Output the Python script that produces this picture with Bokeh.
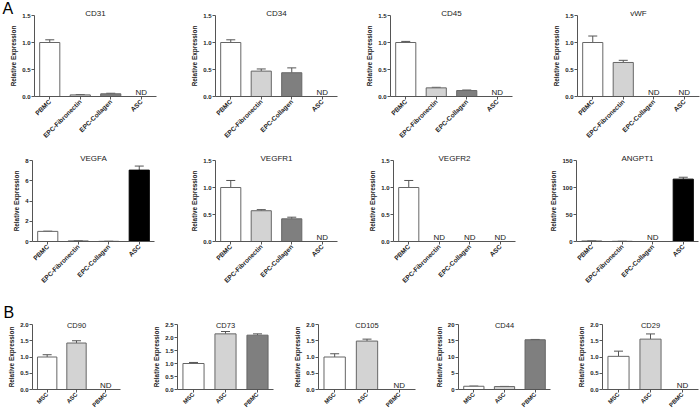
import math
from bokeh.plotting import figure
from bokeh.layouts import row, column
from bokeh.models import (FactorRange, Range1d, FixedTicker, Whisker, TeeHead,
                          ColumnDataSource, Title, NumeralTickFormatter)
from bokeh.embed import file_html
from bokeh.resources import INLINE
from bokeh.core.properties import value

# ---------------- data ----------------
groups_A = ["PBMC", "EPC-Fibronectin", "EPC-Collagen", "ASC"]
groups_B = ["MSC", "ASC", "PBMC"]

# None = ND (not detected)
CD31_mean = [1.00, 0.03, 0.05, None]
CD31_err = [0.05, 0.005, 0.01, None]
CD34_mean = [1.00, 0.47, 0.44, None]
CD34_err = [0.05, 0.04, 0.09, None]
CD45_mean = [1.00, 0.16, 0.11, None]
CD45_err = [0.02, 0.01, 0.01, None]
vWF_mean = [1.00, 0.63, None, None]
vWF_err = [0.12, 0.04, None, None]

VEGFA_mean = [1.00, 0.06, 0.02, 7.05]
VEGFA_err = [0.02, 0.01, 0.005, 0.40]
VEGFR1_mean = [1.00, 0.57, 0.42, None]
VEGFR1_err = [0.13, 0.02, 0.03, None]
VEGFR2_mean = [1.00, None, None, None]
VEGFR2_err = [0.13, None, None, None]
ANGPT1_mean = [1.0, 0.4, None, 115.5]
ANGPT1_err = [0.1, 0.05, None, 3.5]

CD90_mean = [1.00, 1.43, None]
CD90_err = [0.07, 0.07, None]
CD73_mean = [1.00, 2.14, 2.09]
CD73_err = [0.04, 0.09, 0.05]
CD105_mean = [1.00, 1.49, None]
CD105_err = [0.10, 0.06, None]
CD44_mean = [1.0, 0.9, 15.3]
CD44_err = [0.05, 0.05, 0.1]
CD29_mean = [1.02, 1.55, None]
CD29_err = [0.16, 0.16, None]

ticks_15 = [0, 0.5, 1.0, 1.5]
ticks_20 = [0, 0.5, 1.0, 1.5, 2.0]
ticks_25 = [0, 0.5, 1.0, 1.5, 2.0, 2.5]
ticks_VEGFA = [0, 2, 4, 6, 8]
ticks_ANGPT1 = [0, 50, 100, 150]
ticks_CD44 = [0, 5, 10, 15, 20]

# ---------------- styles ----------------
FILL_A = {"PBMC": "white", "EPC-Fibronectin": "#d3d3d3", "EPC-Collagen": "#7f7f7f", "ASC": "black"}
FILL_B = {"MSC": "white", "ASC": "#d3d3d3", "PBMC": "#7f7f7f"}
FONT = "Liberation Sans"
AXIS_COL = "#555555"
TEXT_COL = "#222222"


def panel(name, groups, means, errs, ticks, fmt, fills, box, title_style, xlab_size,
          letter=None):
    left, fw, right, top, fh, bottom = box
    t_size, t_standoff = title_style
    p = figure(x_range=FactorRange(*groups), y_range=Range1d(0, ticks[-1]),
               frame_width=fw, frame_height=fh,
               min_border_left=left, min_border_right=right,
               min_border_top=top, min_border_bottom=bottom,
               output_backend="svg", toolbar_location=None, tools="", title=None)
    p.outline_line_color = None
    p.xgrid.visible = False
    p.ygrid.visible = False
    p.background_fill_color = "white"
    p.border_fill_color = "white"

    xa = p.xaxis[0]
    xa.major_label_orientation = math.pi / 4
    xa.major_tick_out = 3
    xa.major_tick_in = 0
    xa.axis_line_color = AXIS_COL
    xa.major_tick_line_color = AXIS_COL
    xa.major_label_text_font = FONT
    xa.major_label_text_font_size = xlab_size
    xa.major_label_text_font_style = "bold"
    xa.major_label_text_color = TEXT_COL
    xa.major_label_standoff = 1

    ya = p.yaxis[0]
    ya.ticker = FixedTicker(ticks=ticks)
    ya.formatter = NumeralTickFormatter(format=fmt)
    ya.major_tick_out = 3
    ya.major_tick_in = 0
    ya.minor_tick_out = 0
    ya.minor_tick_in = 0
    ya.axis_line_color = AXIS_COL
    ya.major_tick_line_color = AXIS_COL
    ya.major_label_text_font = FONT
    ya.major_label_text_font_size = "6px"
    ya.major_label_text_font_style = "bold"
    ya.major_label_text_color = TEXT_COL
    ya.major_label_standoff = 1
    ya.axis_label = "Relative Expression"
    ya.axis_label_text_font = FONT
    ya.axis_label_text_font_size = "6.4px"
    ya.axis_label_text_font_style = "bold"
    ya.axis_label_text_color = TEXT_COL
    ya.axis_label_standoff = 2

    xs, tops, fc, lc, up = [], [], [], [], []
    nd = []
    for g, m, e in zip(groups, means, errs):
        if m is None:
            nd.append(g)
            continue
        xs.append(g)
        tops.append(m)
        up.append(m + e)
        fc.append(fills[g])
        lc.append("black" if fills[g] == "black" else "#666666")
    src = ColumnDataSource(dict(x=xs, top=tops, upper=up, fill=fc, line=lc))
    p.vbar(x="x", top="top", width=0.66, fill_color="fill", line_color="line",
           line_width=1, source=src)
    p.add_layout(Whisker(base="x", lower="top", upper="upper", source=src,
                         dimension="height", line_color="#555555", line_width=1,
                         lower_head=None,
                         upper_head=TeeHead(size=9, line_color="#555555", line_width=1)))
    if nd:
        p.text(x=nd, y=[0] * len(nd), text=["ND"] * len(nd),
               text_font=value(FONT), text_font_size="8px", text_align="center",
               text_baseline="bottom", text_color="#222222")

    p.add_layout(Title(text=name, align="center", vertical_align="bottom",
                       standoff=t_standoff, text_font=FONT, text_font_size=t_size,
                       text_font_style="normal", text_color=TEXT_COL), "above")
    if letter is not None:
        txt, off, st = letter
        p.add_layout(Title(text=txt, align="left", vertical_align="bottom",
                           offset=off, standoff=st, text_font=FONT,
                           text_font_size="16px", text_font_style="normal",
                           text_color="black"), "above")
    return p


TA = ("8px", -5)
TB = ("7.5px", -10)

# row A1 : (left, frame_w, right, top, frame_h, bottom)
a1 = row(
    panel("CD31", groups_A, CD31_mean, CD31_err, ticks_15, "0.0", FILL_A, (34, 122, 28, 15, 81, 49), TA, "6.5px",
          letter=("A", -32, -14)),
    panel("CD34", groups_A, CD34_mean, CD34_err, ticks_15, "0.0", FILL_A, (31, 122, 25, 15, 81, 49), TA, "6.5px"),
    panel("CD45", groups_A, CD45_mean, CD45_err, ticks_15, "0.0", FILL_A, (28, 122, 35, 15, 81, 49), TA, "6.5px"),
    panel("vWF", groups_A, vWF_mean, vWF_err, ticks_15, "0.0", FILL_A, (30, 122, 1, 15, 81, 49), TA, "6.5px"),
    spacing=0)

a2 = row(
    panel("VEGFA", groups_A, VEGFA_mean, VEGFA_err, ticks_VEGFA, "0", FILL_A, (32, 122, 30, 15, 81, 57), TA, "6.5px"),
    panel("VEGFR1", groups_A, VEGFR1_mean, VEGFR1_err, ticks_15, "0.0", FILL_A, (31, 122, 25, 15, 81, 57), TA, "6.5px"),
    panel("VEGFR2", groups_A, VEGFR2_mean, VEGFR2_err, ticks_15, "0.0", FILL_A, (31, 122, 32, 15, 81, 57), TA, "6.5px"),
    panel("ANGPT1", groups_A, ANGPT1_mean, ANGPT1_err, ticks_ANGPT1, "0", FILL_A, (28, 122, 3, 15, 81, 57), TA, "6.5px"),
    spacing=0)

b = row(
    panel("CD90", groups_B, CD90_mean, CD90_err, ticks_20, "0.0", FILL_B, (32, 88, 25, 26, 65, 20), TB, "6px",
          letter=("B", -29, 5)),
    panel("CD73", groups_B, CD73_mean, CD73_err, ticks_25, "0.0", FILL_B, (32, 96, 17, 26, 65, 20), TB, "6px"),
    panel("CD105", groups_B, CD105_mean, CD105_err, ticks_20, "0.0", FILL_B, (28, 97, 15, 26, 65, 20), TB, "6px"),
    panel("CD44", groups_B, CD44_mean, CD44_err, ticks_CD44, "0", FILL_B, (28, 92, 25, 26, 65, 20), TB, "6px"),
    panel("CD29", groups_B, CD29_mean, CD29_err, ticks_20, "0.0", FILL_B, (27, 96, 2, 26, 65, 20), TB, "6px"),
    spacing=0)

layout = column(a1, a2, b, spacing=0)

open("out.html", "w").write(file_html(layout, INLINE))
